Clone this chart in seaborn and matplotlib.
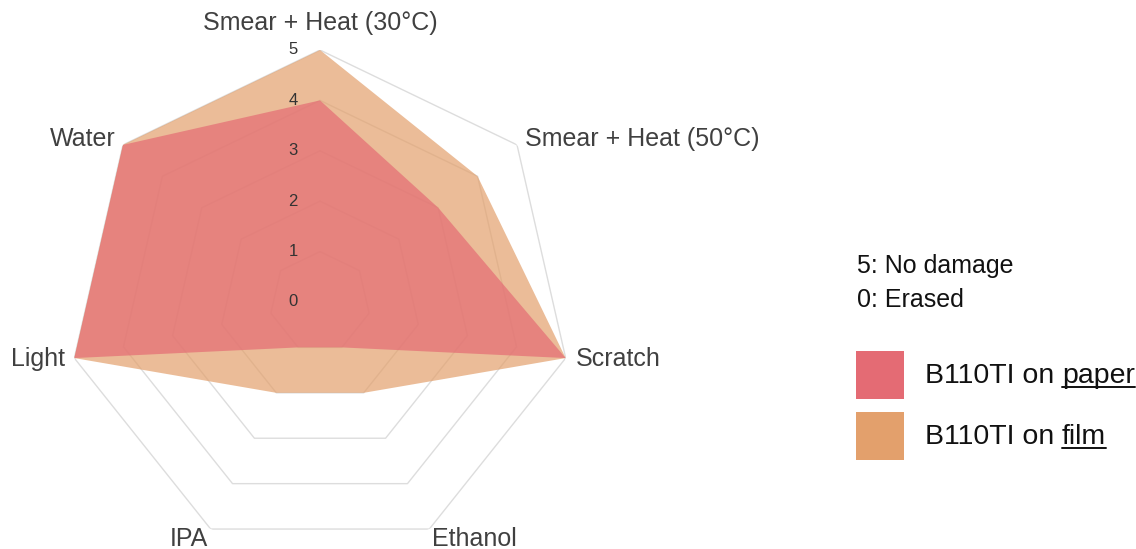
import numpy as np
import seaborn as sns
import matplotlib.pyplot as plt
from matplotlib.patches import Rectangle
from matplotlib.lines import Line2D

categories = ["Smear + Heat (30°C)", "Smear + Heat (50°C)", "Scratch",
              "Ethanol", "IPA", "Light", "Water"]
paper = [4, 3, 5, 1, 1, 5, 5]
film = [5, 4, 5, 2, 2, 5, 5]
series_names = ["paper", "film"]
ticks = [0, 1, 2, 3, 4, 5]
notes = ["5: No damage", "0: Erased"]

sns.set_theme(style="white")
plt.rcParams['font.family'] = ['Liberation Sans', 'DejaVu Sans']

palette = ["#e46b74", "#e3a06c"]
W, H = 1136, 549

fig = plt.figure(figsize=(W / 100, H / 100), dpi=100)
ax = fig.add_axes([68 / W, -5 / H, 504 / W, 504 / H], projection='polar')
ax.set_theta_offset(np.pi / 2)
ax.set_theta_direction(-1)
ax.set_ylim(0, 5)
ax.grid(False)
ax.spines['polar'].set_visible(False)
ax.set_xticks([])
ax.set_yticks([])

n = len(categories)
angles = np.arange(n) * 2 * np.pi / n
closed = np.append(angles, angles[0])

# heptagon grid
for t in ticks[1:]:
    ax.plot(closed, [t] * (n + 1), color="#dddddd", lw=1, zorder=0)

# data (film below, paper on top)
ax.fill(closed, film + film[:1], color=palette[1], alpha=0.7, lw=0, zorder=2)
ax.fill(closed, paper + paper[:1], color=palette[0], alpha=0.7, lw=0, zorder=3)

# radial tick labels
for t in ticks:
    ax.annotate(str(t), xy=(0, t), xytext=(-27, 0), textcoords='offset pixels',
                ha='center', va='center', fontsize=12, color='#333333', zorder=5)

# point labels
offsets = [(0, 27, 'center'), (8, 6, 'left'), (10, -1, 'left'), (3, -10, 'left'),
           (-3, -10, 'right'), (-9, -1, 'right'), (-7, 6, 'right')]
for a, lab, (dx, dy, ha) in zip(angles, categories, offsets):
    ax.annotate(lab, xy=(a, 5), xytext=(dx, dy), textcoords='offset pixels',
                ha=ha, va='center', fontsize=18, color='#404040',
                annotation_clip=False)

# legend notes
for txt, yb in zip(notes, [273, 307]):
    fig.text(857 / W, 1 - yb / H, txt, va='baseline', fontsize=18, color='#111111')

# legend swatches with underlined medium name
renderer = fig.canvas.get_renderer()
for i, name in enumerate(series_names):
    top = 351 + i * 61
    base = 1 - (top + 32) / H
    fig.add_artist(Rectangle((856 / W, 1 - (top + 48) / H), 48 / W, 48 / H,
                             transform=fig.transFigure, color=palette[i], lw=0))
    pre = fig.text(925 / W, base, "B110TI on ", va='baseline', fontsize=20.5,
                   color='#111111')
    x1 = pre.get_window_extent(renderer).x1
    word = fig.text(x1 / W, base, name, va='baseline', fontsize=20.5, color='#111111')
    x2 = word.get_window_extent(renderer).x1
    yl = base * H - 3.5
    fig.add_artist(Line2D([x1 / W, x2 / W], [yl / H, yl / H], transform=fig.transFigure,
                          color='#111111', lw=1.4))

fig.savefig("out.png", dpi=100)
